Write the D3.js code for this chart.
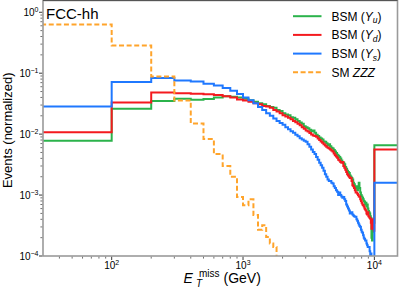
<!DOCTYPE html>
<html>
<head>
<meta charset="utf-8">
<script src="https://d3js.org/d3.v7.min.js"></script>
<style>
  body { margin: 0; background: #fff; }
  text { font-family: "Liberation Sans", Arial, sans-serif; fill: #000; }
</style>
</head>
<body>
<div id="graph"></div>
<script>

// histogram: 100 GeV bins from 0 to 10 TeV, plus one overflow bin (>10 TeV)
var binWidth = 100;

// BSM (Y_u)
var yuBins = [
  0.0078, 0.026, 0.035, 0.038, 0.0366, 0.0378, 0.040, 0.042, 0.041, 0.040,
  0.038, 0.036, 0.034, 0.032, 0.031, 0.029, 0.028, 0.027, 0.025, 0.024,
  0.022, 0.021, 0.0205, 0.019, 0.0185, 0.0175, 0.0165, 0.0155, 0.0148, 0.0135,
  0.013, 0.0125, 0.0118, 0.0112, 0.0115, 0.0105, 0.0098, 0.0093, 0.0088, 0.0085,
  0.0082, 0.0076, 0.0075, 0.0071, 0.0066, 0.0068, 0.0063, 0.006, 0.0058, 0.0055,
  0.0052, 0.0049, 0.0046, 0.0044, 0.0042, 0.0040, 0.0037, 0.0035, 0.0034, 0.0032,
  0.0029, 0.0027, 0.0025, 0.0024, 0.0023, 0.0021, 0.002, 0.0019, 0.0018, 0.0016,
  0.0015, 0.0014, 0.0013, 0.0014, 0.0012, 0.0014, 0.0016, 0.0013, 0.0011, 0.0010,
  0.00095, 0.0009, 0.00085, 0.0008, 0.00078, 0.0007, 0.00075, 0.00065, 0.0007, 0.0006,
  0.00055, 0.00052, 0.0005, 0.00045, 0.00042, 0.0002, 0.00018, 0.0003, 0.00025, 0.00035
];
var yuOverflow = 0.0066;

// BSM (Y_d)
var ydBins = [
  0.0107, 0.033, 0.048, 0.047, 0.046, 0.045, 0.044, 0.042, 0.040, 0.037,
  0.0355, 0.034, 0.032, 0.031, 0.029, 0.0285, 0.027, 0.025, 0.0235, 0.022,
  0.0205, 0.0195, 0.0185, 0.0175, 0.0165, 0.0157, 0.0148, 0.0140, 0.0130, 0.0122,
  0.0115, 0.0110, 0.0104, 0.0099, 0.0095, 0.0093, 0.0091, 0.0085, 0.0080, 0.0076,
  0.0072, 0.0068, 0.0065, 0.0062, 0.0060, 0.0058, 0.0056, 0.0054, 0.0052, 0.0048,
  0.0045, 0.0043, 0.0041, 0.0038, 0.0037, 0.0035, 0.0034, 0.0035, 0.0030, 0.0028,
  0.0026, 0.0024, 0.0022, 0.0021, 0.0020, 0.0019, 0.0019, 0.0017, 0.00145, 0.0014,
  0.0013, 0.0012, 0.0011, 0.0011, 0.00105, 0.001, 0.00095, 0.00094, 0.00085, 0.0008,
  0.00075, 0.0007, 0.00068, 0.00065, 0.0006, 0.00058, 0.00056, 0.0005, 0.00048, 0.00052,
  0.00045, 0.00044, 0.00042, 0.00041, 0.00035, 0.00028, 0.0004, 0.0003, 0.00038, 0.00026
];
var ydOverflow = 0.0056;

// BSM (Y_s)
var ysBins = [
  0.0284, 0.0715, 0.0832, 0.076, 0.0731, 0.067, 0.0629, 0.057, 0.0514, 0.0454,
  0.040, 0.036, 0.032, 0.028, 0.025, 0.022, 0.020, 0.018, 0.0165, 0.0152,
  0.0142, 0.013, 0.012, 0.0112, 0.0105, 0.0098, 0.0092, 0.0086, 0.0082, 0.0078,
  0.0075, 0.0068, 0.0062, 0.0056, 0.0051, 0.0047, 0.0042, 0.0038, 0.0034, 0.0031,
  0.0028, 0.0025, 0.0022, 0.0020, 0.0018, 0.0017, 0.0017, 0.0016, 0.00155, 0.0014,
  0.0013, 0.0012, 0.00113, 0.0010, 0.0011, 0.001, 0.00095, 0.0009, 0.00093, 0.00085,
  0.0008, 0.0007, 0.00065, 0.0006, 0.00056, 0.0005, 0.0005, 0.00052, 0.00048, 0.00046,
  0.00045, 0.00044, 0.00044, 0.0004, 0.00038, 0.00035, 0.00033, 0.00031, 0.0003, 0.00027,
  0.00025, 0.00024, 0.00022, 0.0002, 0.00019, 0.00018, 0.00018, 0.00016, 0.00015, 0.00014,
  0.00014, 0.00014, 0.00012, 0.0001, 0.00011, 0.00009, 0.00008, 0.00006, 0.00007, 0.00005
];
var ysOverflow = 0.0016;

// SM ZZZ (empty above 1.8 TeV)
var zzzBins = [
  0.63, 0.286, 0.0885, 0.0356, 0.015, 0.0083, 0.0047, 0.003, 0.002, 0.00093,
  0.00068, 0.00085, 0.00047, 0.00027, 0.00032, 0.000205, 0.00016, 0.00014
];

var xTickValues = [100, 1000, 10000];
var xTickExps = ["2", "3", "4"];
var yTickValues = [1, 0.1, 0.01, 0.001, 0.0001];
var yTickExps = ["0", "\u22121", "\u22122", "\u22123", "\u22124"];

var seriesNames = ["BSM (Y_u)", "BSM (Y_d)", "BSM (Y_s)", "SM ZZZ"];

// ---- layout
var W = 399, H = 290;
var margin = {top: 0.5, right: 1.5, bottom: 34, left: 43};
var width = W - margin.left - margin.right,
    height = H - margin.top - margin.bottom;

var svg = d3.select("#graph")
  .append("svg")
    .attr("width", W)
    .attr("height", H)
  .append("g")
    .attr("transform", "translate(" + margin.left + "," + margin.top + ")");

var x = d3.scaleLog().domain([30, 15000]).range([0, width]);
var y = d3.scaleLog().domain([1e-4, 1.56]).range([height, 0]);

svg.append("clipPath").attr("id", "clip")
  .append("rect").attr("width", width).attr("height", height);

// step outline of a histogram
function histPoints(bins, overflow, dropAtEnd) {
  var pts = [];
  bins.forEach(function(v, i) {
    var lo = i === 0 ? 10 : i * binWidth;
    pts.push([lo, v]);
  });
  var last = bins.length * binWidth;
  if (overflow !== null) {
    pts.push([last, overflow]);
    pts.push([last * 2, overflow]);
  } else {
    pts.push([last, bins[bins.length - 1]]);
    if (dropAtEnd) pts.push([last, 0]);
  }
  return pts;
}

var line = d3.line()
  .x(function(d) { return x(d[0]); })
  .y(function(d) { return d[1] > 0 ? Math.min(y(d[1]), height + 10) : height + 10; })
  .curve(d3.curveStepAfter);

var series = [
  {pts: histPoints(yuBins, yuOverflow), color: "#2bb34b", dash: null},
  {pts: histPoints(ydBins, ydOverflow), color: "#f41a1f", dash: null},
  {pts: histPoints(ysBins, ysOverflow), color: "#1f78ff", dash: null},
  {pts: histPoints(zzzBins, null, true), color: "#ffa42b", dash: "5,2.6"}
];

var plot = svg.append("g").attr("clip-path", "url(#clip)");
series.forEach(function(s) {
  plot.append("path")
    .attr("d", line(s.pts))
    .attr("fill", "none")
    .attr("stroke", s.color)
    .attr("stroke-width", 2)
    .attr("stroke-linejoin", "miter")
    .attr("stroke-dasharray", s.dash);
});

// ---- spines
svg.append("rect")
  .attr("width", width).attr("height", height)
  .attr("fill", "none").attr("stroke", "#9a9a9a").attr("stroke-width", 1.6);
svg.append("line")
  .attr("x1", 0).attr("x2", width).attr("y1", 0).attr("y2", 0)
  .attr("stroke", "#555").attr("stroke-width", 1.2);

// ---- ticks
var xMinor = [];
[10, 100, 1000, 10000].forEach(function(d) {
  for (var k = 2; k <= 9; k++) {
    var v = d * k;
    if (v > 30 && v < 15000) xMinor.push(v);
  }
});
var yMinor = [];
[1e-4, 1e-3, 1e-2, 1e-1, 1].forEach(function(d) {
  for (var k = 2; k <= 9; k++) {
    var v = d * k;
    if (v < 1.56) yMinor.push(v);
  }
});

svg.selectAll(".xminor").data(xMinor).enter().append("line")
  .attr("x1", function(d) { return x(d); }).attr("x2", function(d) { return x(d); })
  .attr("y1", height + 0.8).attr("y2", height + 2.6)
  .attr("stroke", "#333").attr("stroke-width", 0.7);
svg.selectAll(".xmajor").data(xTickValues).enter().append("line")
  .attr("x1", function(d) { return x(d); }).attr("x2", function(d) { return x(d); })
  .attr("y1", height + 0.8).attr("y2", height + 4)
  .attr("stroke", "#222").attr("stroke-width", 0.9);
svg.selectAll(".yminor").data(yMinor).enter().append("line")
  .attr("y1", function(d) { return y(d); }).attr("y2", function(d) { return y(d); })
  .attr("x1", -0.8).attr("x2", -2.6)
  .attr("stroke", "#333").attr("stroke-width", 0.7);
svg.selectAll(".ymajor").data(yTickValues).enter().append("line")
  .attr("y1", function(d) { return y(d); }).attr("y2", function(d) { return y(d); })
  .attr("x1", -0.8).attr("x2", -4)
  .attr("stroke", "#222").attr("stroke-width", 0.9);

// tick labels, 10^n
xTickValues.forEach(function(v, i) {
  var t = svg.append("text")
    .attr("x", x(v)).attr("y", height + 13)
    .attr("text-anchor", "middle")
    .attr("font-size", "10px");
  t.append("tspan").text("10");
  t.append("tspan").attr("dy", -4).attr("font-size", "7px").text(xTickExps[i]);
});
yTickValues.forEach(function(v, i) {
  var t = svg.append("text")
    .attr("x", -4.5).attr("y", y(v) + 3.5)
    .attr("text-anchor", "end")
    .attr("font-size", "10px");
  t.append("tspan").text("10");
  t.append("tspan").attr("dy", -4).attr("font-size", "7px").text(yTickExps[i]);
});

// ---- axis labels
svg.append("text")
  .attr("transform", "translate(" + (12 - margin.left) + "," + (height / 2 + 2) + ") rotate(-90)")
  .attr("text-anchor", "middle")
  .attr("font-size", "13px")
  .text("Events (normalized)");

// E_T^miss (GeV)
var xl = svg.append("g").attr("transform", "translate(" + (183.5 - margin.left) + "," + (283 - margin.top) + ")");
xl.append("text").attr("font-size", "14px").attr("font-style", "italic").text("E");
xl.append("text").attr("x", 15.5).attr("y", -6.5).attr("font-size", "10px").text("miss");
xl.append("text").attr("x", 12.5).attr("y", 3.5).attr("font-size", "10px").attr("font-style", "italic").text("T");
xl.append("text").attr("x", 40).attr("font-size", "14px").text("(GeV)");

// FCC-hh
svg.append("text")
  .attr("x", 3).attr("y", 18.5 - margin.top)
  .attr("font-size", "15px")
  .text("FCC-hh");

// ---- legend
var legend = svg.append("g").attr("transform", "translate(" + (293 - margin.left) + ",0)");
series.forEach(function(s, i) {
  var ly = 15.7 + i * 18.7;
  legend.append("line")
    .attr("x1", 0).attr("x2", 28.5).attr("y1", ly).attr("y2", ly)
    .attr("stroke", s.color).attr("stroke-width", 2)
    .attr("stroke-dasharray", s.dash);
  var t = legend.append("text").attr("x", 38.5).attr("y", ly + 4.3).attr("font-size", "12px");
  var name = seriesNames[i];
  if (name.indexOf("_") >= 0) {
    var parts = name.match(/^(.*\()(\w)_(\w)(\).*)$/);
    t.append("tspan").text(parts[1]);
    t.append("tspan").attr("font-style", "italic").text(parts[2]);
    t.append("tspan").attr("font-style", "italic").attr("font-size", "8.5px").attr("dy", 2.8).text(parts[3]);
    t.append("tspan").attr("dy", -2.8).text(parts[4]);
  } else {
    var p = name.split(" ");
    t.append("tspan").text(p[0] + " ");
    t.append("tspan").attr("font-style", "italic").text(p[1]);
  }
});

</script>
</body>
</html>
